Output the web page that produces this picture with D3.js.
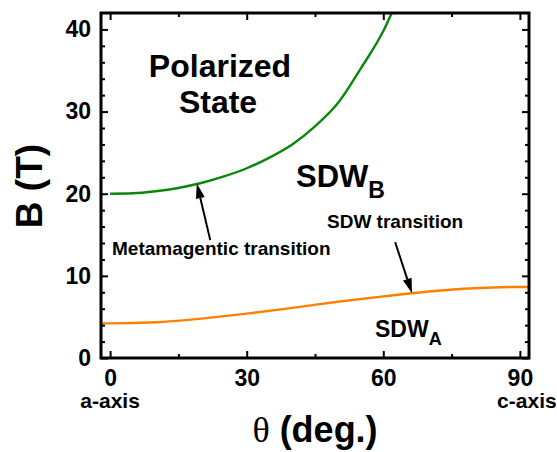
<!DOCTYPE html>
<html><head><meta charset="utf-8">
<script src="https://cdn.jsdelivr.net/npm/d3@7"></script>
<style>
html,body{margin:0;padding:0;background:#fff;}
svg{display:block;}
text{font-family:"Liberation Sans",Arial,sans-serif;font-weight:bold;fill:#000;}
</style></head>
<body>
<script>
// ---- data ----
const metaTheta = [0, 5, 10, 15, 20, 25, 30, 35, 40, 45, 50, 55, 60, 62.5];
const metaB     = [20.0, 20.05, 20.3, 20.7, 21.3, 22.1, 23.1, 24.4, 26.0, 28.2, 31.0, 35.2, 39.8, 42.8];
const sdwTheta  = [-2, 0, 10, 20, 30, 40, 50, 60, 70, 80, 90, 92];
const sdwB      = [4.22, 4.22, 4.35, 4.8, 5.4, 6.1, 6.85, 7.5, 8.1, 8.5, 8.65, 8.65];
const xMajor = [0, 30, 60, 90];
const xMinor = [15, 45, 75];
const yMajor = [0, 10, 20, 30, 40];
const yMinor = [2,4,6,8,12,14,16,18,22,24,26,28,32,34,36,38];
const xEndLabels = ["a-axis", "c-axis"];

const W = 557, H = 452;
const m = {left:101, top:13, right:28, bottom:94};
const iw = W - m.left - m.right, ih = H - m.top - m.bottom;

const svg = d3.select("body").append("svg").attr("width", W).attr("height", H);
const g = svg.append("g").attr("transform", `translate(${m.left},${m.top})`);

const x = d3.scaleLinear().domain([-2, 92]).range([0, iw]);
const y = d3.scaleLinear().domain([0, 42]).range([ih, 0]);

svg.append("defs").append("clipPath").attr("id","clip")
  .append("rect").attr("width", iw).attr("height", ih);

// curves
const line = d3.line().x(d => x(d[0])).y(d => y(d[1])).curve(d3.curveMonotoneX);
g.append("path").datum(metaTheta.map((t,i)=>[t, metaB[i]]))
  .attr("clip-path","url(#clip)")
  .attr("d", line).attr("fill","none").attr("stroke","#0a870a").attr("stroke-width",2.4);
g.append("path").datum(sdwTheta.map((t,i)=>[t, sdwB[i]]))
  .attr("clip-path","url(#clip)")
  .attr("d", line).attr("fill","none").attr("stroke","#ff8000").attr("stroke-width",2.4);

// axes with inward ticks
function styleAxis(sel){
  sel.select(".domain").remove();
  sel.selectAll("line").attr("stroke","#000").attr("stroke-width",2);
}
const fs = "23px";
g.append("g").attr("transform",`translate(0,${ih})`)
  .call(d3.axisBottom(x).tickValues(xMajor).tickSize(-7).tickPadding(12).tickFormat(d3.format("d")))
  .call(styleAxis)
  .call(s => s.selectAll("text").attr("font-size",fs).attr("font-family","Liberation Sans, Arial, sans-serif").attr("font-weight","bold").attr("fill","#000"));
g.append("g").attr("transform",`translate(0,${ih})`)
  .call(d3.axisBottom(x).tickValues(xMinor).tickSize(-4).tickFormat("")).call(styleAxis);
g.append("g")
  .call(d3.axisTop(x).tickValues(xMajor).tickSize(-7).tickFormat("")).call(styleAxis);
g.append("g")
  .call(d3.axisTop(x).tickValues(xMinor).tickSize(-4).tickFormat("")).call(styleAxis);

g.append("g")
  .call(d3.axisLeft(y).tickValues(yMajor).tickSize(-7).tickPadding(10).tickFormat(d3.format("d")))
  .call(styleAxis)
  .call(s => s.selectAll("text").attr("font-size",fs).attr("font-family","Liberation Sans, Arial, sans-serif").attr("font-weight","bold").attr("fill","#000"));
g.append("g")
  .call(d3.axisLeft(y).tickValues(yMinor).tickSize(-4).tickFormat("")).call(styleAxis);
g.append("g").attr("transform",`translate(${iw},0)`)
  .call(d3.axisRight(y).tickValues(yMajor).tickSize(-7).tickFormat("")).call(styleAxis);
g.append("g").attr("transform",`translate(${iw},0)`)
  .call(d3.axisRight(y).tickValues(yMinor).tickSize(-4).tickFormat("")).call(styleAxis);

// frame
g.append("rect").attr("width", iw).attr("height", ih)
  .attr("fill","none").attr("stroke","#000").attr("stroke-width",3);

// end labels
g.append("text").attr("x", x(0)).attr("y", ih + 50).attr("text-anchor","middle")
  .attr("font-size","21px").text(xEndLabels[0]);
g.append("text").attr("x", x(90) + 7).attr("y", ih + 50).attr("text-anchor","middle")
  .attr("font-size","21px").text(xEndLabels[1]);

// axis titles
const xt = svg.append("text").attr("x", 315).attr("y", 442).attr("text-anchor","middle").attr("font-size","36px");
xt.append("tspan").attr("font-family","Liberation Serif, Times New Roman, serif").attr("font-weight","normal").text("θ");
xt.append("tspan").text(" (deg.)");
svg.append("text").attr("transform","translate(42,186) rotate(-90)").attr("text-anchor","middle")
  .attr("font-size","37px").text("B (T)");

// region labels
g.append("text").attr("x", 220 - m.left).attr("y", 77 - m.top).attr("text-anchor","middle")
  .attr("font-size","32px").text("Polarized");
g.append("text").attr("x", 218 - m.left).attr("y", 113 - m.top).attr("text-anchor","middle")
  .attr("font-size","32px").text("State");
const sb = g.append("text").attr("x", 296 - m.left).attr("y", 187 - m.top).attr("font-size","31px");
sb.append("tspan").text("SDW");
sb.append("tspan").attr("font-size","23px").attr("dy", 11).text("B");
const sa = g.append("text").attr("x", 375 - m.left).attr("y", 337 - m.top).attr("font-size","23px");
sa.append("tspan").text("SDW");
sa.append("tspan").attr("font-size","18px").attr("dy", 8).text("A");

// annotations
g.append("text").attr("x", 112 - m.left).attr("y", 255 - m.top).attr("font-size","19px").text("Metamagentic transition");
g.append("text").attr("x", 327 - m.left).attr("y", 228 - m.top).attr("font-size","19px").text("SDW transition");

function arrow(t0, b0, t1, b1){
  const x0 = x(t0), y0 = y(b0), x1 = x(t1), y1 = y(b1);
  const a = Math.atan2(y1 - y0, x1 - x0);
  const L = 15, Wd = 4.5;
  const bx = x1 - L*Math.cos(a), by = y1 - L*Math.sin(a);
  g.append("line").attr("x1", x0).attr("y1", y0).attr("x2", bx).attr("y2", by)
    .attr("stroke","#000").attr("stroke-width",2);
  const p = [[x1,y1],[bx - Wd*Math.sin(a), by + Wd*Math.cos(a)],[bx + Wd*Math.sin(a), by - Wd*Math.cos(a)]];
  g.append("path").attr("d", "M" + p.map(q=>q.join(",")).join("L") + "Z").attr("fill","#000");
}
arrow(22, 14.35, 19.05, 21.25);
arrow(62.6, 14.1, 66.3, 7.87);
</script>
</body></html>
